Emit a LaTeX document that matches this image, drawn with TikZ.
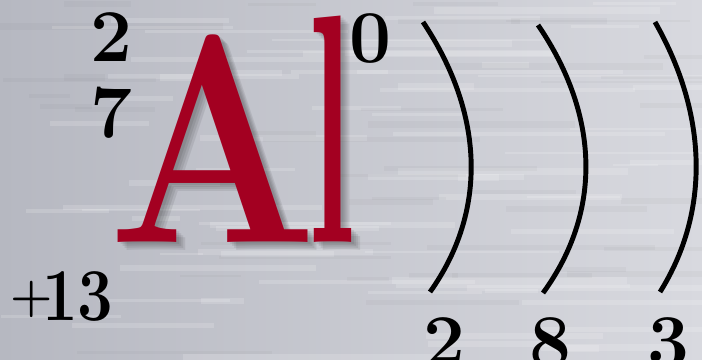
\documentclass[tikz,border=0pt]{standalone}
\usepackage{fontspec}
\usepackage{graphicx}
\usetikzlibrary{positioning}
\definecolor{AlRed}{RGB}{163,0,33}
\definecolor{MetalDark}{RGB}{182,184,193}
\definecolor{MetalLight}{RGB}{216,217,223}
\newcommand{\AlText}{\scalebox{0.83}[1]{A}\kern-7pt\scalebox{0.52}[1.1]{l}}

\begin{document}
\begin{tikzpicture}[
    x=0.025cm, y=-0.025cm,
    every node/.style={inner sep=0pt, anchor=base west},
    num/.style={font=\fontsize{53}{53}\selectfont\bfseries},
    elem/.style={font=\fontsize{211}{211}\selectfont\bfseries, text=AlRed},
    shell/.style={line width=3.5pt}
]
% brushed metal background
\clip (0,0) rectangle (702,360);
\fill[left color=MetalDark, right color=MetalLight] (0,0) rectangle (702,360);
\pgfmathsetseed{11}
\foreach \i in {1,...,70}{
    \pgfmathsetmacro{\sx}{rnd*650}
    \pgfmathsetmacro{\sy}{rnd*360}
    \pgfmathsetmacro{\sw}{40+rnd*240}
    \pgfmathsetmacro{\sh}{2+rnd*6}
    \fill[white, opacity=0.16] (\sx,\sy) rectangle ++(\sw,\sh);
}
\foreach \i in {1,...,40}{
    \pgfmathsetmacro{\sx}{rnd*650}
    \pgfmathsetmacro{\sy}{rnd*360}
    \pgfmathsetmacro{\sw}{40+rnd*200}
    \pgfmathsetmacro{\sh}{2+rnd*5}
    \fill[black!60, opacity=0.05] (\sx,\sy) rectangle ++(\sw,\sh);
}

% element symbol with soft shadow
\foreach \dx/\dy in {3/2,5/4,7/6,9/8}{
    \node[elem, text=black, opacity=0.08] at (108+\dx,242+\dy) {\AlText};
}
\node[elem] (al) at (108,242) {\AlText};

% mass number, charge, nucleus
\node[num] (mass2) at (90,62) {2};
\node[num] (mass7) at (90,138) {7};
\node[num] (charge) at (349,63) {0};
\node[num] (nucleus) at (10,320) {\raisebox{0.12em}{\scalebox{0.65}{+}}\kern-0.14em\scalebox{0.85}[1]{13}};

% electron shells
\draw[shell] (423,22) .. controls (485,115) and (487,212) .. (430,292);
\draw[shell] (538,25) .. controls (600,116) and (602,212) .. (543,293);
\draw[shell] (655,22) .. controls (708,115) and (710,212) .. (660,292);

\node[num] (e1) at (423,366) {2};
\node[num] (e2) at (529,366) {8};
\node[num] (e3) at (647,366) {3};
\end{tikzpicture}
\end{document}
